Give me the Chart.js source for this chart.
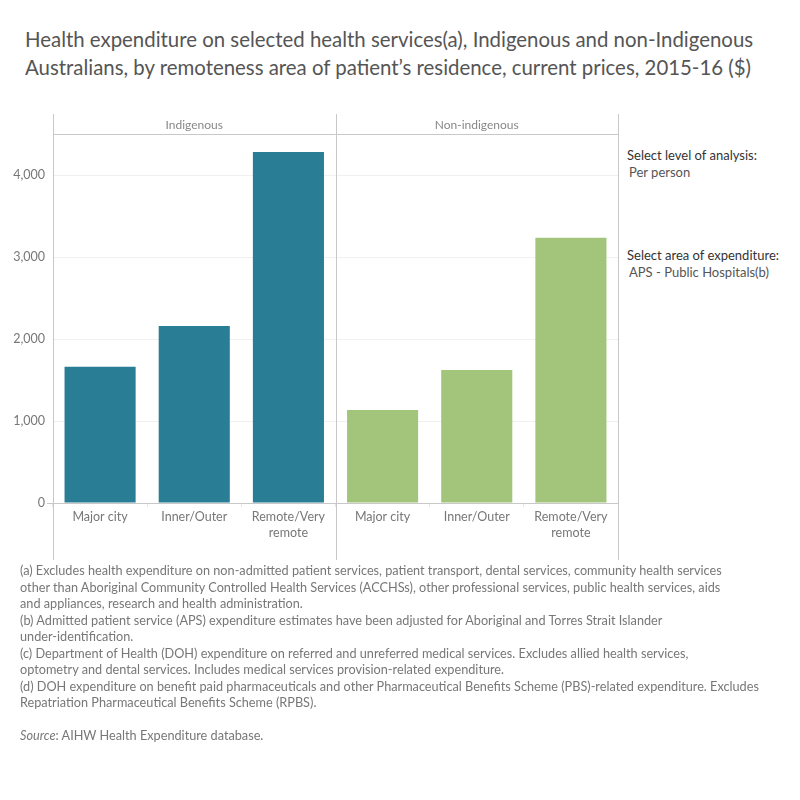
<!DOCTYPE html>
<html>
<head>
<meta charset="utf-8">
<script src="https://cdn.jsdelivr.net/npm/chart.js@4.4.1/dist/chart.umd.min.js"></script>
<style>
  body { margin: 0; background: #fff; font-family: Lato, "Noto Sans", sans-serif; }
  #page { position: relative; width: 800px; height: 800px; overflow: hidden; }
  .title { position: absolute; left: 25px; top: 25px; font-size: 20.4px; line-height: 28px; color: #555; white-space: nowrap; }
  #chartBox { position: absolute; left: 0; top: 100px; width: 620px; height: 470px; }
  .side { position: absolute; left: 627px; font-size: 13px; white-space: nowrap; }
  .side .lab { color: #333; }
  .side .val { color: #555; margin-left: 2px; margin-top: 1px; }
  .notes { position: absolute; left: 20px; top: 562px; font-size: 12.7px; line-height: 16.5px; color: #777; white-space: nowrap; }
</style>
</head>
<body>
<div id="page">
  <div class="title">Health expenditure on selected health services(a), Indigenous and non-Indigenous<br>Australians, by remoteness area of patient’s residence, current prices, 2015-16 ($)</div>
  <div id="chartBox"><canvas id="chart"></canvas></div>
  <div class="side" style="top:147px"><div class="lab">Select level of analysis:</div><div class="val">Per person</div></div>
  <div class="side" style="top:247px"><div class="lab">Select area of expenditure:</div><div class="val">APS - Public Hospitals(b)</div></div>
  <div class="notes">
    (a) Excludes health expenditure on non-admitted patient services, patient transport, dental services, community health services<br>
    other than Aboriginal Community Controlled Health Services (ACCHSs), other professional services, public health services, aids<br>
    and appliances, research and health administration.<br>
    (b) Admitted patient service (APS) expenditure estimates have been adjusted for Aboriginal and Torres Strait Islander<br>
    under-identification.<br>
    (c) Department of Health (DOH) expenditure on referred and unreferred medical services. Excludes allied health services,<br>
    optometry and dental services. Includes medical services provision-related expenditure.<br>
    (d) DOH expenditure on benefit paid pharmaceuticals and other Pharmaceutical Benefits Scheme (PBS)-related expenditure. Excludes<br>
    Repatriation Pharmaceutical Benefits Scheme (RPBS).<br>
    <br>
    <i>Source</i>: AIHW Health Expenditure database.
  </div>
</div>
<script>
// Data
const panels = ['Indigenous', 'Non-indigenous'];
const areas = ['Major city', 'Inner/Outer', ['Remote/Very', 'remote']];
const indigenous = [1662, 2160, 4280];
const nonIndigenous = [1134, 1622, 3235];
const yTicks = [0, 1000, 2000, 3000, 4000];

const teal = '#297d95';
const green = '#a2c57b';
const lineColor = '#c8c8c8';

// Panel frames and headers
const panelPlugin = {
  id: 'panels',
  afterDraw(chart) {
    const { ctx, chartArea: a, scales: { x } } = chart;
    const mid = (x.getPixelForValue(2) + x.getPixelForValue(3)) / 2;
    ctx.save();
    ctx.strokeStyle = lineColor;
    ctx.lineWidth = 1;
    ctx.beginPath();
    [a.left, mid, a.right].forEach(px => {
      const p = Math.round(px) + 0.5;
      ctx.moveTo(p, 14); ctx.lineTo(p, 460);
    });
    ctx.moveTo(a.left, Math.round(a.top) + 0.5); ctx.lineTo(a.right, Math.round(a.top) + 0.5);
    ctx.moveTo(a.left - 6, Math.round(a.bottom) + 0.5); ctx.lineTo(a.right, Math.round(a.bottom) + 0.5);
    ctx.stroke();
    ctx.fillStyle = '#888';
    ctx.font = '12px Lato, "Noto Sans", sans-serif';
    ctx.textAlign = 'center';
    ctx.textBaseline = 'middle';
    ctx.fillText(panels[0], (a.left + mid) / 2, 25);
    ctx.fillText(panels[1], (mid + a.right) / 2, 25);
    ctx.restore();
  }
};

new Chart(document.getElementById('chart').getContext('2d'), {
  type: 'bar',
  data: {
    labels: areas.concat(areas),
    datasets: [{
      data: indigenous.concat(nonIndigenous),
      backgroundColor: [teal, teal, teal, green, green, green],
      barPercentage: 0.755,
      categoryPercentage: 1
    }]
  },
  options: {
    responsive: true,
    maintainAspectRatio: false,
    animation: false,
    layout: { padding: { top: 34, right: 2, left: 0, bottom: 0 } },
    plugins: { legend: { display: false }, tooltip: { enabled: false } },
    scales: {
      x: {
        grid: { display: true, drawOnChartArea: false, offset: true, tickLength: 4, color: '#e6e6e6' },
        border: { display: false },
        ticks: { color: '#777', font: { family: 'Lato, "Noto Sans", sans-serif', size: 12.5, lineHeight: 1.3 }, padding: 2, maxRotation: 0, autoSkip: false },
        afterFit(s) { s.height = 67; }
      },
      y: {
        min: 0,
        max: 4500,
        afterBuildTicks(s) { s.ticks = yTicks.map(v => ({ value: v })); },
        grid: { color: '#f0f0f0', drawTicks: false },
        border: { display: false },
        ticks: { color: '#777', font: { family: 'Lato, "Noto Sans", sans-serif', size: 12.5 }, padding: 8,
                 callback: v => v.toLocaleString('en-US') },
        afterFit(s) { s.width = 53; }
      }
    }
  },
  plugins: [panelPlugin]
});
</script>
</body>
</html>
